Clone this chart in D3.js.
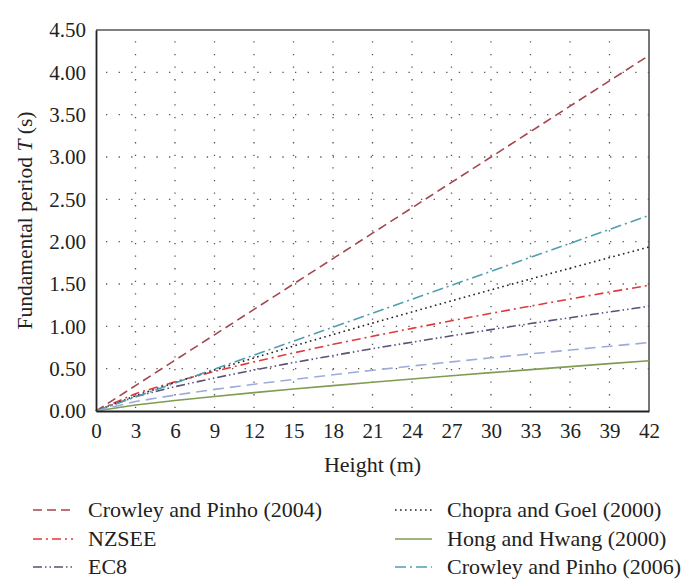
<!DOCTYPE html>
<html>
<head>
<meta charset="utf-8">
<script src="https://cdn.jsdelivr.net/npm/d3@7/dist/d3.min.js"></script>
<style>
  body { margin: 0; background: #fff; }
  svg { display: block; }
  text { font-family: "Liberation Serif", "DejaVu Serif", serif; fill: #222; }
</style>
</head>
<body>
<svg id="chart" width="686" height="588"></svg>
<script>
// ---- data ----
const heights = [0, 3, 6, 9, 12, 15, 18, 21, 24, 27, 30, 33, 36, 39, 42];
const crowleyPinho2004 = [0, 0.30, 0.60, 0.90, 1.20, 1.50, 1.80, 2.10, 2.40, 2.70, 3.00, 3.30, 3.60, 3.90, 4.20];
const nzsee            = [0, 0.205, 0.345, 0.468, 0.580, 0.686, 0.787, 0.883, 0.976, 1.066, 1.154, 1.239, 1.323, 1.405, 1.485];
const ec8              = [0, 0.171, 0.288, 0.390, 0.484, 0.572, 0.655, 0.736, 0.813, 0.888, 0.961, 1.033, 1.102, 1.170, 1.237];
const chopraGoel2000   = [0, 0.180, 0.336, 0.484, 0.627, 0.767, 0.903, 1.038, 1.170, 1.301, 1.431, 1.559, 1.686, 1.812, 1.937];
const hongHwang2000    = [0, 0.071, 0.124, 0.172, 0.217, 0.259, 0.300, 0.340, 0.378, 0.416, 0.453, 0.489, 0.524, 0.559, 0.594];
const crowleyPinho2006 = [0, 0.165, 0.330, 0.495, 0.660, 0.825, 0.990, 1.155, 1.320, 1.485, 1.650, 1.815, 1.980, 2.145, 2.310];
const unlabelledSeries = [0, 0.112, 0.188, 0.255, 0.316, 0.373, 0.428, 0.481, 0.531, 0.580, 0.628, 0.675, 0.720, 0.765, 0.808];

const xTicks = [0, 3, 6, 9, 12, 15, 18, 21, 24, 27, 30, 33, 36, 39, 42];
const yTicks = [0, 0.5, 1.0, 1.5, 2.0, 2.5, 3.0, 3.5, 4.0, 4.5];

const seriesNames = ["Crowley and Pinho (2004)", "NZSEE", "EC8", "Chopra and Goel (2000)", "Hong and Hwang (2000)", "Crowley and Pinho (2006)", ""];
const seriesValues = [crowleyPinho2004, nzsee, ec8, chopraGoel2000, hongHwang2000, crowleyPinho2006, unlabelledSeries];

// ---- styles ----
const styles = [
  { color: "#a3464e", dash: "9,5", width: 1.6 },
  { color: "#e0393c", dash: "9,4,2,4", width: 1.6 },
  { color: "#5b5178", dash: "9,3,1.5,3,1.5,3", width: 1.6 },
  { color: "#222222", dash: "1.6,3.4", width: 1.6 },
  { color: "#7f9c52", dash: null, width: 1.6 },
  { color: "#4f9fb1", dash: "11,4,2,4", width: 1.6 },
  { color: "#9eabd8", dash: "11,6", width: 1.6 }
];

const svg = d3.select("#chart");
const margin = { left: 96, right: 37, top: 30, bottom: 177 };
const W = 686, H = 588;
const x = d3.scaleLinear().domain([0, 42]).range([margin.left, W - margin.right]);
const y = d3.scaleLinear().domain([0, 4.5]).range([H - margin.bottom, margin.top]);

// grid
const grid = svg.append("g");
grid.selectAll("line.h").data(yTicks.slice(1, -1)).join("line")
  .attr("x1", x(0)).attr("x2", x(42))
  .attr("y1", d => y(d)).attr("y2", d => y(d))
  .attr("stroke", "#555").attr("stroke-width", 1.3).attr("stroke-dasharray", "1.3,11.3")
  .attr("stroke-dashoffset", -10);
grid.selectAll("line.v").data(xTicks.slice(1, -1)).join("line")
  .attr("x1", d => x(d)).attr("x2", d => x(d))
  .attr("y1", y(0)).attr("y2", y(4.5))
  .attr("stroke", "#555").attr("stroke-width", 1.3).attr("stroke-dasharray", "1.3,11.3")
  .attr("stroke-dashoffset", -3);

// frame (top/right)
svg.append("path")
  .attr("d", `M${x(0)},${y(4.5)}H${x(42)}V${y(0)}`)
  .attr("fill", "none").attr("stroke", "#555").attr("stroke-width", 1.6);

// series
const line = d3.line().x((d, i) => x(heights[i])).y(d => y(d));
seriesValues.forEach((vals, k) => {
  const s = styles[k];
  const p = svg.append("path").datum(vals)
    .attr("d", line)
    .attr("fill", "none")
    .attr("stroke", s.color)
    .attr("stroke-width", s.width);
  if (s.dash) p.attr("stroke-dasharray", s.dash);
});

// axes
const xAxis = d3.axisBottom(x).tickValues(xTicks).tickSize(0).tickPadding(12).tickFormat(d3.format("d"));
const yAxis = d3.axisLeft(y).tickValues(yTicks).tickSize(0).tickPadding(10).tickFormat(d3.format(".2f"));
const gx = svg.append("g").attr("transform", `translate(0,${y(0)})`).call(xAxis);
const gy = svg.append("g").attr("transform", `translate(${x(0)},0)`).call(yAxis);
[gx, gy].forEach(g => {
  g.select(".domain").attr("stroke", "#222").attr("stroke-width", 1.8);
  g.selectAll("text").style("font-family", '"Liberation Serif", serif').style("font-size", "21px").attr("fill", "#222");
});
gx.selectAll("text").attr("dy", "0.72em");

// axis titles
svg.append("text")
  .attr("x", (x(0) + x(42)) / 2).attr("y", 472)
  .attr("text-anchor", "middle").style("font-size", "22px")
  .text("Height (m)");

const yl = svg.append("text")
  .attr("transform", `translate(32,${(y(0) + y(4.5)) / 2}) rotate(-90)`)
  .attr("text-anchor", "middle").style("font-size", "21.5px");
yl.append("tspan").text("Fundamental period ");
yl.append("tspan").style("font-style", "italic").text("T");
yl.append("tspan").text(" (s)");

// legend
const legendPos = [
  { col: 0, row: 0 }, { col: 0, row: 1 }, { col: 0, row: 2 },
  { col: 1, row: 0 }, { col: 1, row: 1 }, { col: 1, row: 2 }
];
const colX = [{ l1: 33, l2: 73, t: 88 }, { l1: 395, l2: 432, t: 447 }];
const rowY = [510, 539, 567];
legendPos.forEach((p, k) => {
  const s = styles[k];
  const cx = colX[p.col], cy = rowY[p.row];
  const ln = svg.append("line")
    .attr("x1", cx.l1).attr("x2", cx.l2).attr("y1", cy).attr("y2", cy)
    .attr("stroke", s.color).attr("stroke-width", 1.3);
  if (s.dash) ln.attr("stroke-dasharray", s.dash);
  svg.append("text").attr("x", cx.t).attr("y", cy).attr("dy", "0.33em")
    .style("font-size", "22px").text(seriesNames[k]);
});
</script>
</body>
</html>
